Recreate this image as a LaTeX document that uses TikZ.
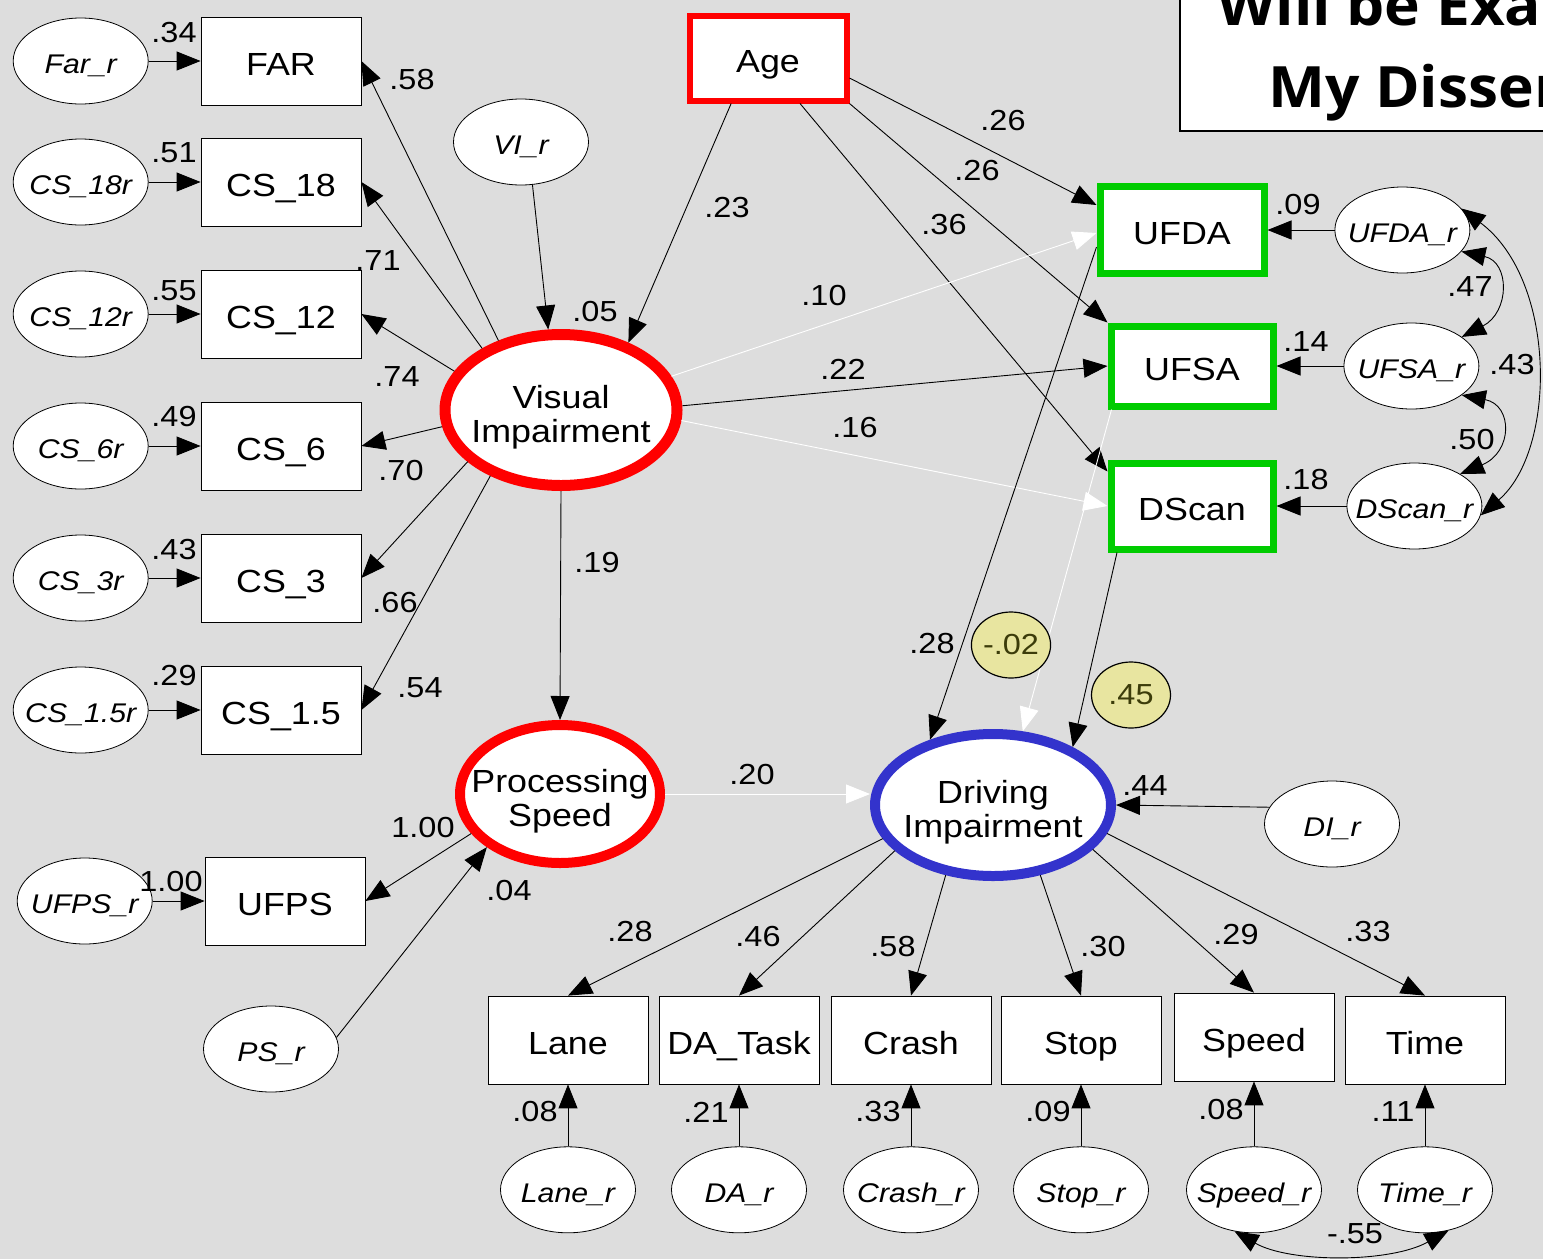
\documentclass[tikz,border=0pt]{standalone}
\usepackage{fontspec}
\setmainfont{Liberation Sans}[FakeStretch=1.12]
\newfontfamily\titlefont{Open Sans}[FakeStretch=1.06]
\usepackage{tikz}
\usetikzlibrary{arrows.meta,shapes.geometric,positioning}

\definecolor{bggrey}{RGB}{221,221,221}
\definecolor{ringred}{RGB}{255,0,0}
\definecolor{ringblue}{RGB}{51,51,204}
\definecolor{boxgreen}{RGB}{0,204,0}
\definecolor{sigfill}{RGB}{232,229,160}
\definecolor{sigtext}{RGB}{60,60,10}

\tikzset{
  obs/.style={draw, fill=white, line width=0.8pt, minimum width=160pt, minimum height=88pt,
              inner sep=0pt, text height=29pt, text depth=0pt, font=\fontsize{32}{34}\selectfont},
  ufov/.style={obs, draw=boxgreen, line width=7pt, minimum width=162pt, minimum height=86pt},
  err/.style={ellipse, draw, fill=white, line width=0.8pt, minimum width=135pt, minimum height=86pt,
              inner sep=0pt, label={[errtxt]center:#1}},
  errtxt/.style={draw=none, fill=none, text=black, inner sep=0pt, text height=25pt, text depth=0pt,
                 font=\fontsize{27}{30}\selectfont\itshape},
  lat/.style={ellipse, draw, fill=white, inner sep=0pt, label={[lattxt]center:#1}},
  lattxt/.style={draw=none, fill=none, text=black, inner sep=0pt, align=center, yshift=-7pt,
                 font=\fontsize{32}{34}\selectfont},
  coef/.style={inner sep=0pt, font=\fontsize{29}{30}\selectfont},
  sig/.style={ellipse, draw, line width=1.2pt, fill=sigfill, text=sigtext, inner sep=0pt,
              minimum width=79pt, minimum height=66pt, font=\fontsize{29}{30}\selectfont},
  arr/.style={->, line width=0.9pt},
  warr/.style={->, line width=0.9pt, white},
  cov/.style={<->, line width=0.9pt}
}

\begin{document}
\begin{tikzpicture}[x=1pt, y=-1pt, >={Triangle[length=24pt,width=19pt]}]
  \fill[bggrey] (0,0) rectangle (1543,1259);
  \useasboundingbox (0,0) rectangle (1543,1259);

  %--- Title box, cut by the page edge
  \draw[fill=white, line width=1.5pt] (1180,-10) rectangle (1560,131);
  \node[anchor=base west, inner sep=0pt, font=\titlefont\bfseries\fontsize{57}{60}\selectfont]
    (title1) at (1217,25) {Will be Exa};
  \node[anchor=base west, inner sep=0pt, font=\titlefont\bfseries\fontsize{57}{60}\selectfont]
    (title2) at (1268,107) {My Disser};

  %--- Indicators of Visual Impairment
  \node[obs] (FAR)  at (281,61)  {FAR};
  \node[obs] (CS18) at (281,182) {CS\_18};
  \node[obs] (CS12) at (281,314) {CS\_12};
  \node[obs] (CS6)  at (281,446) {CS\_6};
  \node[obs] (CS3)  at (281,578) {CS\_3};
  \node[obs] (CS15) at (281,710) {CS\_1.5};
  \node[obs] (UFPS) at (285,901) {UFPS};

  \node[err=Far\_r,    left=52pt of FAR]  (Far_r)  {};
  \node[err=CS\_18r,   left=52pt of CS18] (CS18_r) {};
  \node[err=CS\_12r,   left=52pt of CS12] (CS12_r) {};
  \node[err=CS\_6r,    left=52pt of CS6]  (CS6_r)  {};
  \node[err=CS\_3r,    left=52pt of CS3]  (CS3_r)  {};
  \node[err=CS\_1.5r,  left=52pt of CS15] (CS15_r) {};
  \node[err=UFPS\_r,   left=52pt of UFPS] (UFPS_r) {};

  %--- Latent factors
  \node[lat=Visual\\Impairment, draw=ringred, line width=11pt,
        minimum width=232pt, minimum height=151pt] (VI) at (561,410) {};
  \node[lat=Processing\\Speed, draw=ringred, line width=10pt,
        minimum width=200pt, minimum height=138pt] (PS) at (560,794) {};
  \node[lat=Driving\\Impairment, draw=ringblue, line width=10pt,
        minimum width=236pt, minimum height=142pt] (DI) at (993,805) {};

  \node[err=VI\_r] (VI_r) at (521,142)  {};
  \node[err=PS\_r] (PS_r) at (271,1049) {};
  \node[err=DI\_r] (DI_r) at (1332,824) {};

  %--- Age and UFOV
  \node[obs, draw=ringred, line width=6pt, minimum width=157pt, minimum height=85pt]
    (Age) at (768,58) {Age};
  \node[ufov, minimum width=164pt, minimum height=87pt] (UFDA) at (1182,230) {UFDA};
  \node[ufov, minimum height=80pt] (UFSA)  at (1192,366) {UFSA};
  \node[ufov] (DScan) at (1192,506) {DScan};

  \node[err=UFDA\_r,  right=67pt of UFDA]  (UFDA_r)  {};
  \node[err=UFSA\_r,  right=67pt of UFSA]  (UFSA_r)  {};
  \node[err=DScan\_r, right=70pt of DScan] (DScan_r) {};

  %--- Driving indicators
  \node[obs] (Lane)   at (568,1040)  {Lane};
  \node[obs] (DATask) at (739,1040)  {DA\_Task};
  \node[obs] (Crash)  at (911,1040)  {Crash};
  \node[obs] (Stop)   at (1081,1040) {Stop};
  \node[obs] (Speed)  at (1254,1037) {Speed};
  \node[obs] (Time)   at (1425,1040) {Time};

  \node[err=Lane\_r,  below=62pt of Lane]   (Lane_r)  {};
  \node[err=DA\_r,    below=62pt of DATask] (DA_r)    {};
  \node[err=Crash\_r, below=62pt of Crash]  (Crash_r) {};
  \node[err=Stop\_r,  below=62pt of Stop]   (Stop_r)  {};
  \node[err=Speed\_r, below=65pt of Speed]  (Speed_r) {};
  \node[err=Time\_r,  below=62pt of Time]   (Time_r)  {};

  %--- Residual arrows
  \draw[arr] (Far_r)  -- (FAR);
  \draw[arr] (CS18_r) -- (CS18);
  \draw[arr] (CS12_r) -- (CS12);
  \draw[arr] (CS6_r)  -- (CS6);
  \draw[arr] (CS3_r)  -- (CS3);
  \draw[arr] (CS15_r) -- (CS15);
  \draw[arr] (UFPS_r) -- (UFPS);
  \draw[arr] (VI_r.-75) -- (VI.99);
  \draw[arr] (PS_r.10) -- (PS.216);
  \draw[arr] (DI_r.165) -- (DI.east);
  \draw[arr] (UFDA_r)  -- (UFDA);
  \draw[arr] (UFSA_r)  -- (UFSA);
  \draw[arr] (DScan_r) -- (DScan);
  \draw[arr] (Lane_r)  -- (Lane);
  \draw[arr] (DA_r)    -- (DATask);
  \draw[arr] (Crash_r) -- (Crash);
  \draw[arr] (Stop_r)  -- (Stop);
  \draw[arr] (Speed_r) -- (Speed);
  \draw[arr] (Time_r)  -- (Time);

  %--- Loadings
  \draw[arr] (VI.132) -- (FAR.east);
  \draw[arr] (VI.142) -- (CS18.east);
  \draw[arr] (VI.160) -- (CS12.east);
  \draw[arr] (VI.188) -- (CS6.east);
  \draw[arr] (VI.209) -- (CS3.east);
  \draw[arr] (VI.223) -- (CS15.east);
  \draw[arr] (PS.204) -- (UFPS.east);
  \draw[arr] (DI.197) -- (Lane.north);
  \draw[arr] (DI.205) -- (DATask.north);
  \draw[arr] (DI.236) -- (Crash.north);
  \draw[arr] (DI.304) -- (Stop.north);
  \draw[arr] (DI.336) -- (Speed.north);
  \draw[arr] (DI.346) -- (Time.north);

  %--- Structural paths
  \draw[arr]  (Age.231) -- (VI.45);
  \draw[arr]  ([yshift=-20pt]Age.east) -- ([yshift=25pt]UFDA.west);
  \draw[arr]  (Age.south east) -- (UFSA.north west);
  \draw[arr]  ([xshift=32pt]Age.south) -- ([yshift=-12pt]DScan.north west);
  \draw[warr] (VI.17) -- ([yshift=-3pt]UFDA.west);
  \draw[arr]  (VI.2) -- (UFSA.west);
  \draw[warr] (VI.-5) -- (DScan.west);
  \draw[arr]  (VI.south) -- (PS.north);
  \draw[warr] (PS.east) -- (PS.east -| DI.west);
  \draw[arr]  ([yshift=-17pt]UFDA.west) -- (DI.134);
  \draw[warr] ([xshift=4pt]UFSA.south west) -- (DI.68);
  \draw[arr]  ([xshift=-75pt]DScan.south) -- (DI.36);

  %--- Covariances
  \draw[cov] (UFDA_r.-20) .. controls (1510,262) and (1510,312) .. (UFSA_r.30);
  \draw[cov] (UFSA_r.-30) .. controls (1513,405) and (1513,452) .. (DScan_r.35);
  \draw[cov] (UFDA_r.20) .. controls (1557,280) and (1557,450) .. (DScan_r.-8);
  \draw[cov] (Speed_r.-115) .. controls (1290,1263) and (1390,1263) .. (Time_r.-60);

  %--- Highlighted estimates
  \node[sig] (sigUFSA)  at (1011,645) {-.02};
  \node[sig] (sigDScan) at (1131,695) {.45};

  %--- Estimates
  \node[coef] (rFAR)   at (174,33)  {.34};
  \node[coef] (rCS18)  at (174,153) {.51};
  \node[coef] (rCS12)  at (174,291) {.55};
  \node[coef] (rCS6)   at (174,417) {.49};
  \node[coef] (rCS3)   at (174,550) {.43};
  \node[coef] (rCS15)  at (174,676) {.29};
  \node[coef] (rUFPS)  at (171,882) {1.00};
  \node[coef] (lFAR)   at (412,80)  {.58};
  \node[coef] (lCS18)  at (378,261) {.71};
  \node[coef] (lCS12)  at (397,377) {.74};
  \node[coef] (lCS6)   at (401,471) {.70};
  \node[coef] (lCS3)   at (395,603) {.66};
  \node[coef] (lCS15)  at (420,688) {.54};
  \node[coef] (rVI)    at (595,312) {.05};
  \node[coef] (pAgeVI) at (727,208) {.23};
  \node[coef] (pAgeDA) at (1003,121) {.26};
  \node[coef] (pAgeSA) at (977,171) {.26};
  \node[coef] (pAgeDS) at (944,225) {.36};
  \node[coef] (pVIDA)  at (824,296) {.10};
  \node[coef] (pVISA)  at (843,369) {.22};
  \node[coef] (pVIDS)  at (855,428) {.16};
  \node[coef] (rUFDA)  at (1298,205) {.09};
  \node[coef] (rUFSA)  at (1306,342) {.14};
  \node[coef] (rDScan) at (1306,480) {.18};
  \node[coef] (cDASA)  at (1470,287) {.47};
  \node[coef] (cDADS)  at (1512,365) {.43};
  \node[coef] (cSADS)  at (1472,440) {.50};
  \node[coef] (pVIPS)  at (597,563) {.19};
  \node[coef] (pDADI)  at (932,644) {.28};
  \node[coef] (pPSDI)  at (752,775) {.20};
  \node[coef] (lUFPS)  at (423,828) {1.00};
  \node[coef] (rPS)    at (509,891) {.04};
  \node[coef] (rDI)    at (1145,786) {.44};
  \node[coef] (lLane)  at (630,932) {.28};
  \node[coef] (lDA)    at (758,937) {.46};
  \node[coef] (lCrash) at (893,947) {.58};
  \node[coef] (lStop)  at (1103,947) {.30};
  \node[coef] (lSpeed) at (1236,935) {.29};
  \node[coef] (lTime)  at (1368,932) {.33};
  \node[coef] (rLane)  at (535,1112) {.08};
  \node[coef] (rDA)    at (706,1112) {.21};
  \node[coef] (rCrash) at (878,1112) {.33};
  \node[coef] (rStop)  at (1048,1112) {.09};
  \node[coef] (rSpeed) at (1221,1110) {.08};
  \node[coef] (rTime)  at (1393,1112) {.11};
  \node[coef] (cSpTi)  at (1355,1234) {-.55};

\end{tikzpicture}
\end{document}
